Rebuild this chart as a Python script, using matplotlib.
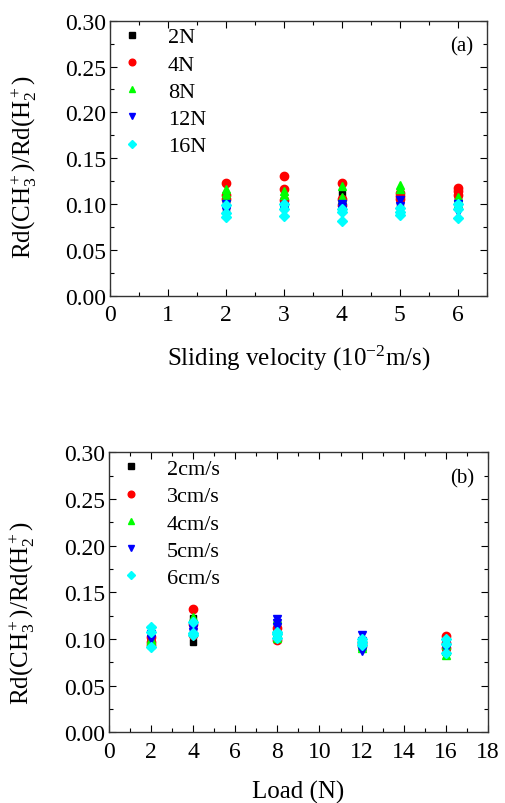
import matplotlib
matplotlib.use('Agg')
import matplotlib.pyplot as plt
from matplotlib.ticker import MultipleLocator, FormatStrFormatter

plt.rcParams['font.family'] = 'Liberation Serif'
plt.rcParams['mathtext.fontset'] = 'custom'
plt.rcParams['mathtext.rm'] = 'Liberation Serif'
plt.rcParams['mathtext.it'] = 'Liberation Serif:italic'

# (a) ratio vs sliding velocity, one series per load, 3 runs per point
velocity = [2, 3, 4, 5, 6]
load_names = ['2N', '4N', '8N', '12N', '16N']
ratio_a = {
    '2N':  [[0.103, 0.095, 0.110], [0.104, 0.096, 0.100], [0.111, 0.103, 0.100], [0.110, 0.105, 0.100], [0.112, 0.107, 0.103]],
    '4N':  [[0.123, 0.110, 0.105], [0.131, 0.116, 0.104], [0.123, 0.106, 0.099], [0.112, 0.109, 0.106], [0.117, 0.114, 0.110]],
    '8N':  [[0.116, 0.108, 0.112], [0.114, 0.110, 0.102], [0.120, 0.108, 0.104], [0.121, 0.116, 0.099], [0.108, 0.104, 0.100]],
    '12N': [[0.100, 0.092, 0.096], [0.093, 0.098, 0.095], [0.097, 0.100, 0.093], [0.104, 0.098, 0.088], [0.091, 0.096, 0.100]],
    '16N': [[0.099, 0.086, 0.090], [0.100, 0.087, 0.095], [0.091, 0.082, 0.095], [0.096, 0.091, 0.088], [0.100, 0.085, 0.095]],
}

# (b) ratio vs load, one series per sliding velocity
load = [2, 4, 8, 12, 16]
vel_names = ['2cm/s', '3cm/s', '4cm/s', '5cm/s', '6cm/s']
ratio_b = {
    '2cm/s': [[0.103, 0.100, 0.097], [0.123, 0.110, 0.097], [0.117, 0.110, 0.103], [0.099, 0.095, 0.092], [0.095, 0.090, 0.088]],
    '3cm/s': [[0.102, 0.097, 0.094], [0.132, 0.116, 0.104], [0.112, 0.106, 0.099], [0.097, 0.093, 0.095], [0.103, 0.096, 0.090]],
    '4cm/s': [[0.100, 0.098, 0.095], [0.124, 0.120, 0.108], [0.121, 0.106, 0.101], [0.092, 0.096, 0.090], [0.083, 0.087, 0.094]],
    '5cm/s': [[0.110, 0.105, 0.100], [0.113, 0.111, 0.107], [0.121, 0.117, 0.113], [0.104, 0.098, 0.087], [0.091, 0.089, 0.096]],
    '6cm/s': [[0.113, 0.107, 0.091], [0.118, 0.106, 0.104], [0.105, 0.101, 0.108], [0.100, 0.094, 0.097], [0.100, 0.085, 0.095]],
}

colors = ['black', 'red', '#00ff00', 'blue', 'cyan']
markers = ['s', 'o', '^', 'v', 'D']
msizes = [5, 6, 6, 6, 5]

fig = plt.figure(figsize=(5.05, 8.04), dpi=100)
ax1 = fig.add_axes([0.218, 0.631, 0.746, 0.342])
ax2 = fig.add_axes([0.216, 0.088, 0.750, 0.348])

ylab = r'Rd(CH$\mathregular{_3^+}$)/Rd(H$\mathregular{_2^+}$)'


def draw(ax, xs, names, data, xmax, xmajor, xminor, xlabel, tag, ylab_y):
    for i, name in enumerate(names):
        px, py = [], []
        for x, vals in zip(xs, data[name]):
            for v in vals:
                px.append(x)
                py.append(v)
        ax.plot(px, py, ls='none', marker=markers[i], color=colors[i],
                ms=msizes[i], mec=colors[i], label=name)
    ax.set_xlim(0, xmax)
    ax.set_ylim(0, 0.30)
    ax.xaxis.set_major_locator(MultipleLocator(xmajor))
    ax.xaxis.set_minor_locator(MultipleLocator(xminor))
    ax.yaxis.set_major_locator(MultipleLocator(0.05))
    ax.yaxis.set_minor_locator(MultipleLocator(0.025))
    ax.yaxis.set_major_formatter(FormatStrFormatter('%.2f'))
    ax.tick_params(which='both', direction='in', top=True, right=True,
                   labelsize=17)
    ax.tick_params(axis='x', pad=6)
    ax.tick_params(axis='y', pad=3)
    ax.tick_params(which='major', length=5, width=0.8)
    ax.tick_params(which='minor', length=3, width=0.8)
    for s in ax.spines.values():
        s.set_linewidth(1.0)
        s.set_color('#333333')
    ax.set_xlabel(xlabel, fontsize=18, labelpad=13)
    ax.set_ylabel(ylab, fontsize=18)
    ax.yaxis.set_label_coords(-0.19, ylab_y)
    ax.text(0.965, 0.91, tag, transform=ax.transAxes, ha='right', va='center',
            fontsize=15)
    ax.legend(loc='upper left', frameon=False, fontsize=16, markerscale=0.8,
              handlelength=1.2, handletextpad=1.0, labelspacing=0.3,
              borderaxespad=0.0, bbox_to_anchor=(0.0, 1.01))


draw(ax1, velocity, load_names, ratio_a, 6.5, 1, 0.5,
     r'Sliding velocity (10$^{\mathregular{-2}}$m/s)', '(a)', 0.47)
draw(ax2, load, vel_names, ratio_b, 18, 2, 1, 'Load (N)', '(b)', 0.43)

fig.savefig('out.png', dpi=100)
